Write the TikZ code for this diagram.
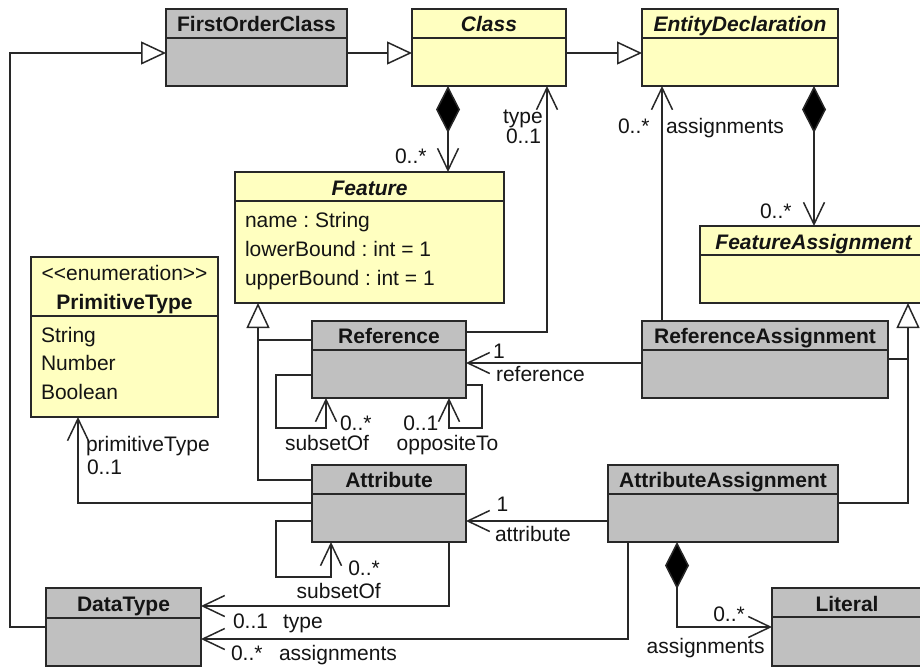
\documentclass[tikz,border=0pt]{standalone}
\usepackage{fontspec}
\setmainfont{Liberation Sans}
\usetikzlibrary{arrows.meta}
\definecolor{yel}{RGB}{255,255,192}
\definecolor{gry}{RGB}{192,192,192}
\definecolor{edge}{RGB}{40,40,40}
\definecolor{ink}{RGB}{20,20,20}
\tikzset{
 box/.style={draw=edge, line width=1.8pt, inner sep=0pt, outer sep=0pt},
 divl/.style={draw=edge, line width=1.8pt},
 txt/.style={inner sep=0pt, outer sep=0pt, text=ink, font=\fontsize{21}{25}\selectfont\frenchspacing},
 lbl/.style={txt, anchor=base west},
 conn/.style={draw=edge, line width=1.5pt},
 ob/.tip={Straight Barb[length=22pt,width=21pt]},
 gt/.tip={Triangle[open,length=25pt,width=23pt,fill=white]},
 cd/.tip={Diamond[length=47pt,width=24pt,fill=black]},
}
\newcommand{\umlcls}[9]{%
  \node[box, fill=#7, minimum width={(#4-#2)*1pt}, minimum height={(#5-#3)*1pt}, anchor=north west] (#1) at (#2,-#3) {};
  \draw[divl] (#2,-#6) -- (#4,-#6);
  \node[txt, anchor=base] (#1-t) at ({(#2+#4)/2},-#9) {#8};
}
\begin{document}
\begin{tikzpicture}[x=1pt,y=1pt]
\useasboundingbox (0,0) rectangle (920,-667);
\clip (0,0) rectangle (920,-667);
\fill[white] (0,0) rectangle (920,-667);

% boxes
\umlcls{foc}{166}{9}{347}{86}{38}{gry}{\bfseries FirstOrderClass}{31.5}
\umlcls{cls}{412}{9}{566}{86}{38}{yel}{\bfseries\itshape Class}{31.5}
\umlcls{ent}{642}{9}{838}{86}{38}{yel}{\bfseries\itshape EntityDeclaration}{31.5}
\umlcls{feat}{235}{172}{504}{303}{201}{yel}{\bfseries\itshape Feature}{195}
\umlcls{fa}{700}{226}{927}{303}{255}{yel}{\bfseries\itshape FeatureAssignment}{249}
\umlcls{pt}{31}{257}{218}{417}{316}{yel}{\bfseries PrimitiveType}{309}
\umlcls{ref}{312}{321}{466}{398}{350}{gry}{\bfseries Reference}{343}
\umlcls{ra}{642}{321}{888}{398}{350}{gry}{\bfseries ReferenceAssignment}{343}
\umlcls{attr}{312}{465}{466}{542}{494}{gry}{\bfseries Attribute}{487}
\umlcls{aa}{608}{465}{838}{542}{494}{gry}{\bfseries AttributeAssignment}{487}
\umlcls{dt}{46}{588}{201}{666}{618}{gry}{\bfseries DataType}{611}
\umlcls{lit}{772}{588}{922}{666}{617}{gry}{\bfseries Literal}{611}

% box contents
\node[txt, anchor=base] (pt-s) at (124.6,-280) {<{}<enumeration>{}>};
\node[lbl] (pt-a1) at (41,-342.7) {String};
\node[lbl] (pt-a2) at (41,-370.7) {Number};
\node[lbl] (pt-a3) at (41,-399) {Boolean};
\node[lbl] (feat-a1) at (245,-227.7) {name : String};
\node[lbl] (feat-a2) at (245,-256.7) {lowerBound : int = 1};
\node[lbl] (feat-a3) at (245,-285.7) {upperBound : int = 1};

% generalizations
\draw[conn,-gt] (dt.west |- 0,-627) -| (10,-53) -- (foc.west |- 0,-53);
\draw[conn,-gt] (foc.east |- 0,-53) -- (cls.west |- 0,-53);
\draw[conn,-gt] (cls.east |- 0,-53) -- (ent.west |- 0,-53);
\draw[conn] (ref.west |- 0,-340) -- (258,-340);
\draw[conn,-gt] (attr.west |- 0,-480) -| (feat.south -| 258,0);
\draw[conn] (ra.east |- 0,-359) -- (908,-359);
\draw[conn,-gt] (aa.east |- 0,-503) -| (fa.south -| 908,0);

% compositions
\draw[conn,cd-ob] (cls.south -| 448,0) -- (feat.north -| 448,0);
\draw[conn,cd-ob] (ent.south -| 814,0) -- (fa.north -| 814,0);
\draw[conn,cd-ob] (aa.south -| 677,0) |- (lit.west |- 0,-627);

% associations
\draw[conn,-ob] (ref.east |- 0,-332) -| (cls.south -| 547,0);
\draw[conn,-ob] (ra.north -| 662,0) -- (ent.south -| 662,0);
\draw[conn,-ob] (ra.west |- 0,-363) -- (ref.east |- 0,-363);
\draw[conn,-ob] (ref.west |- 0,-375) -| (276,-428) -| (ref.south -| 326,0);
\draw[conn,-ob] (ref.east |- 0,-385) -| (482,-428) -| (ref.south -| 449,0);
\draw[conn,-ob] (attr.west |- 0,-503) -| (pt.south -| 78,0);
\draw[conn,-ob] (attr.west |- 0,-521) -| (276,-577) -| (attr.south -| 331,0);
\draw[conn,-ob] (aa.west |- 0,-521) -- (attr.east |- 0,-521);
\draw[conn,-ob] (attr.south -| 449,0) |- (dt.east |- 0,-606);
\draw[conn,-ob] (aa.south -| 628,0) |- (dt.east |- 0,-639);

% labels
\node[lbl] (l1) at (395,-163.3) {0..*};
\node[lbl] (l2) at (503,-123.3) {type};
\node[lbl] (l3) at (506,-143.3) {0..1};
\node[lbl] (l4) at (618,-133.3) {0..*};
\node[lbl] (l5) at (666,-133.3) {assignments};
\node[lbl] (l6) at (760,-218.3) {0..*};
\node[lbl] (l7) at (493,-358.3) {1};
\node[lbl] (l8) at (496,-381) {reference};
\node[lbl] (l9) at (340,-430) {0..*};
\node[lbl] (l10) at (285,-450) {subsetOf};
\node[lbl] (l11) at (403.3,-430) {0..1};
\node[lbl] (l12) at (396.7,-450) {oppositeTo};
\node[lbl] (l13) at (86,-451.7) {primitiveType};
\node[lbl] (l14) at (87,-474.3) {0..1};
\node[lbl] (l15) at (496.7,-511.7) {1};
\node[lbl] (l16) at (495,-541) {attribute};
\node[lbl] (l17) at (348.3,-575) {0..*};
\node[lbl] (l18) at (296.7,-598.3) {subsetOf};
\node[lbl] (l19) at (233,-628.3) {0..1};
\node[lbl] (l20) at (283,-628.3) {type};
\node[lbl] (l21) at (231,-660) {0..*};
\node[lbl] (l22) at (279,-660) {assignments};
\node[lbl] (l23) at (713.3,-621.7) {0..*};
\node[lbl] (l24) at (646.7,-653.3) {assignments};
\end{tikzpicture}
\end{document}
